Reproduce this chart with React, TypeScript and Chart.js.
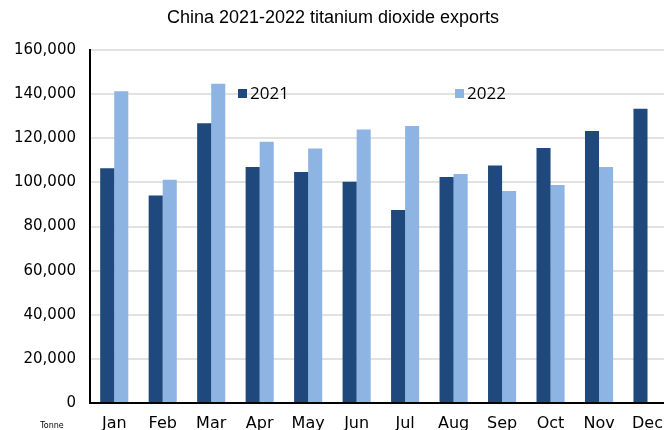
import React, { useEffect, useRef } from "react";
import { Chart, registerables } from "chart.js";

Chart.register(...registerables);

const months = ["Jan", "Feb", "Mar", "Apr", "May", "Jun", "Jul", "Aug", "Sep", "Oct", "Nov", "Dec"];
const exports2021 = [106400, 94100, 126800, 107000, 104700, 100300, 87500, 102400, 107700, 115600, 123300, 133400];
const exports2022 = [141300, 101200, 144700, 118400, 115400, 124000, 125500, 103800, 96100, 98800, 107000, null];
const seriesNames = ["2021", "2022"];
const colors = ["#1f497d", "#8eb4e3"];
const titleText = "China 2021-2022 titanium dioxide exports";
const unitText = "Tonne";

const overlayPlugin = {
  id: "overlay",
  afterDraw(chart: any) {
    const ctx = chart.ctx;
    ctx.save();
    // title
    ctx.fillStyle = "#000";
    ctx.font = "18px 'Liberation Sans', Arial, sans-serif";
    ctx.textAlign = "center";
    ctx.textBaseline = "middle";
    ctx.fillText(titleText, 333, 18);
    // unit
    ctx.font = "8px 'DejaVu Sans', sans-serif";
    ctx.fillText(unitText, 52, 426);
    // legend
    const items = [
      { x: 238, label: seriesNames[0], color: colors[0] },
      { x: 455, label: seriesNames[1], color: colors[1] },
    ];
    ctx.textAlign = "left";
    ctx.font = "17px 'Open Sans', sans-serif";
    for (const it of items) {
      ctx.fillStyle = it.color;
      ctx.fillRect(it.x, 89, 9, 9);
      ctx.fillStyle = "#000";
      ctx.fillText(it.label, it.x + 12, 94);
    }
    ctx.restore();
  },
};

export default function App() {
  const ref = useRef<HTMLCanvasElement>(null);
  useEffect(() => {
    if (!ref.current) return;
    const chart = new Chart(ref.current, {
      type: "bar",
      data: {
        labels: months,
        datasets: [
          { label: seriesNames[0], data: exports2021, backgroundColor: colors[0] },
          { label: seriesNames[1], data: exports2022 as any, backgroundColor: colors[1] },
        ],
      },
      options: {
        responsive: false,
        animation: false,
        layout: { padding: { left: 0, right: 0, top: 50, bottom: 0 } },
        datasets: { bar: { categoryPercentage: 0.58, barPercentage: 1 } },
        plugins: { legend: { display: false }, title: { display: false }, tooltip: { enabled: false } },
        scales: {
          x: {
            grid: { display: false, drawTicks: false },
            border: { color: "#000", width: 2 },
            ticks: { color: "#000", padding: 11, font: { family: "'DejaVu Sans', sans-serif", size: 16 } },
            afterFit(scale: any) {
              scale.height = 27;
            },
          },
          y: {
            min: 0,
            max: 160000,
            grid: { color: "#e2e2e2", lineWidth: 2, drawTicks: false },
            border: { color: "#000", width: 2 },
            ticks: {
              stepSize: 20000,
              color: "#000",
              padding: 14,
              font: { family: "'DejaVu Sans', sans-serif", size: 15 },
              callback: (v: any) => Number(v).toLocaleString("en-US"),
            },
            afterFit(scale: any) {
              scale.width = 90;
            },
          },
        },
      },
      plugins: [overlayPlugin],
    });
    return () => chart.destroy();
  }, []);
  return (
    <div style={{ position: "fixed", left: 0, top: 0, width: 664, height: 430, overflow: "hidden", background: "#fff" }}>
      <canvas ref={ref} width={674} height={430} style={{ width: 674, height: 430, display: "block" }} />
    </div>
  );
}
